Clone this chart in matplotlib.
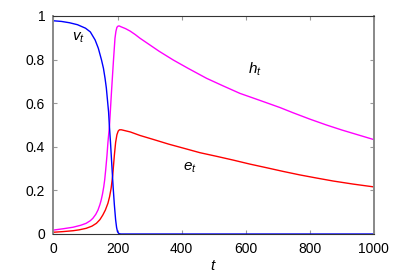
import matplotlib

matplotlib.use("Agg")
import matplotlib.pyplot as plt

plt.rcParams["font.family"] = ["Liberation Sans", "DejaVu Sans"]
plt.rcParams["mathtext.fontset"] = "custom"
plt.rcParams["mathtext.it"] = "Liberation Sans:italic"
plt.rcParams["mathtext.rm"] = "Liberation Sans"

# values
t_v = [0, 25, 50, 75, 100, 115, 130, 140, 150, 156, 161, 165, 169, 172, 174, 178,
       182, 186, 190, 194, 197, 200, 204, 210, 1000]
v = [0.978, 0.975, 0.969, 0.960, 0.944, 0.927, 0.89, 0.852, 0.798, 0.76, 0.714,
     0.67, 0.607, 0.56, 0.508, 0.42, 0.32, 0.22, 0.135, 0.065, 0.03, 0.01, 0.002,
     0.0, 0.0]

t_h = [0, 30, 61, 85, 102, 115, 123, 132, 139, 145, 149, 153, 157, 160, 163, 167,
       170, 175, 181, 187, 192, 195, 198, 202, 206, 210, 225, 239, 255, 270, 300,
       330, 374, 420, 478, 530, 582, 644, 707, 748, 800, 852, 900, 950, 1000]
h = [0.018, 0.024, 0.031, 0.04, 0.049, 0.061, 0.072, 0.09, 0.11, 0.135, 0.156,
     0.183, 0.217, 0.25, 0.294, 0.36, 0.42, 0.50, 0.65, 0.79, 0.898, 0.93, 0.948,
     0.954, 0.954, 0.951, 0.942, 0.931, 0.915, 0.898, 0.868, 0.838, 0.798, 0.76,
     0.714, 0.679, 0.645, 0.613, 0.58, 0.556, 0.527, 0.50, 0.477, 0.455, 0.433]

t_e = [0, 30, 61, 80, 102, 120, 134, 145, 154, 162, 170, 175, 180, 185, 190, 194,
       198, 202, 206, 212, 240, 270, 311, 360, 410, 457, 510, 561, 612, 665, 717,
       769, 820, 873, 935, 1000]
e = [0.008, 0.011, 0.015, 0.019, 0.026, 0.036, 0.049, 0.066, 0.087, 0.11, 0.141,
     0.17, 0.21, 0.27, 0.36, 0.42, 0.455, 0.472, 0.478, 0.478, 0.468, 0.452, 0.434,
     0.412, 0.392, 0.373, 0.356, 0.339, 0.321, 0.304, 0.287, 0.271, 0.257, 0.243,
     0.229, 0.216]

x_ticks = [0, 200, 400, 600, 800, 1000]
y_ticks = [0, 0.2, 0.4, 0.6, 0.8, 1]
y_labels = ["0", "0.2", "0.4", "0.6", "0.8", "1"]

fig = plt.figure(figsize=(3.99, 2.79), dpi=100)
ax = fig.add_axes([0.134, 0.1613, 0.803, 0.7814])

ax.plot(t_h, h, color="#ff00ff", lw=1.0)
ax.plot(t_e, e, color="#ff0000", lw=1.0)
ax.plot(t_v, v, color="#0000ff", lw=1.0)

ax.set_xlim(0, 1000)
ax.set_ylim(0, 1)
ax.set_xticks(x_ticks)
ax.set_yticks(y_ticks)
ax.set_yticklabels(y_labels)
ax.tick_params(direction="in", length=3, width=0.8, color="#999999",
               top=True, right=True, labelsize=10, labelcolor="black")
ax.tick_params(axis="y", pad=6)
ax.tick_params(axis="x", pad=6)
for side in ("left", "right"):
    ax.spines[side].set_color("#888888")
    ax.spines[side].set_linewidth(1.4)
for side in ("top", "bottom"):
    ax.spines[side].set_color("#333333")
    ax.spines[side].set_linewidth(0.8)

ax.text(78, 0.9, "$v_t$", fontsize=11, ha="center", va="center")
ax.text(628, 0.755, "$h_t$", fontsize=11, ha="center", va="center")
ax.text(425, 0.305, "$e_t$", fontsize=11, ha="center", va="center")
ax.set_xlabel("$t$", fontsize=11, labelpad=2)

fig.savefig("out.png", dpi=100)
